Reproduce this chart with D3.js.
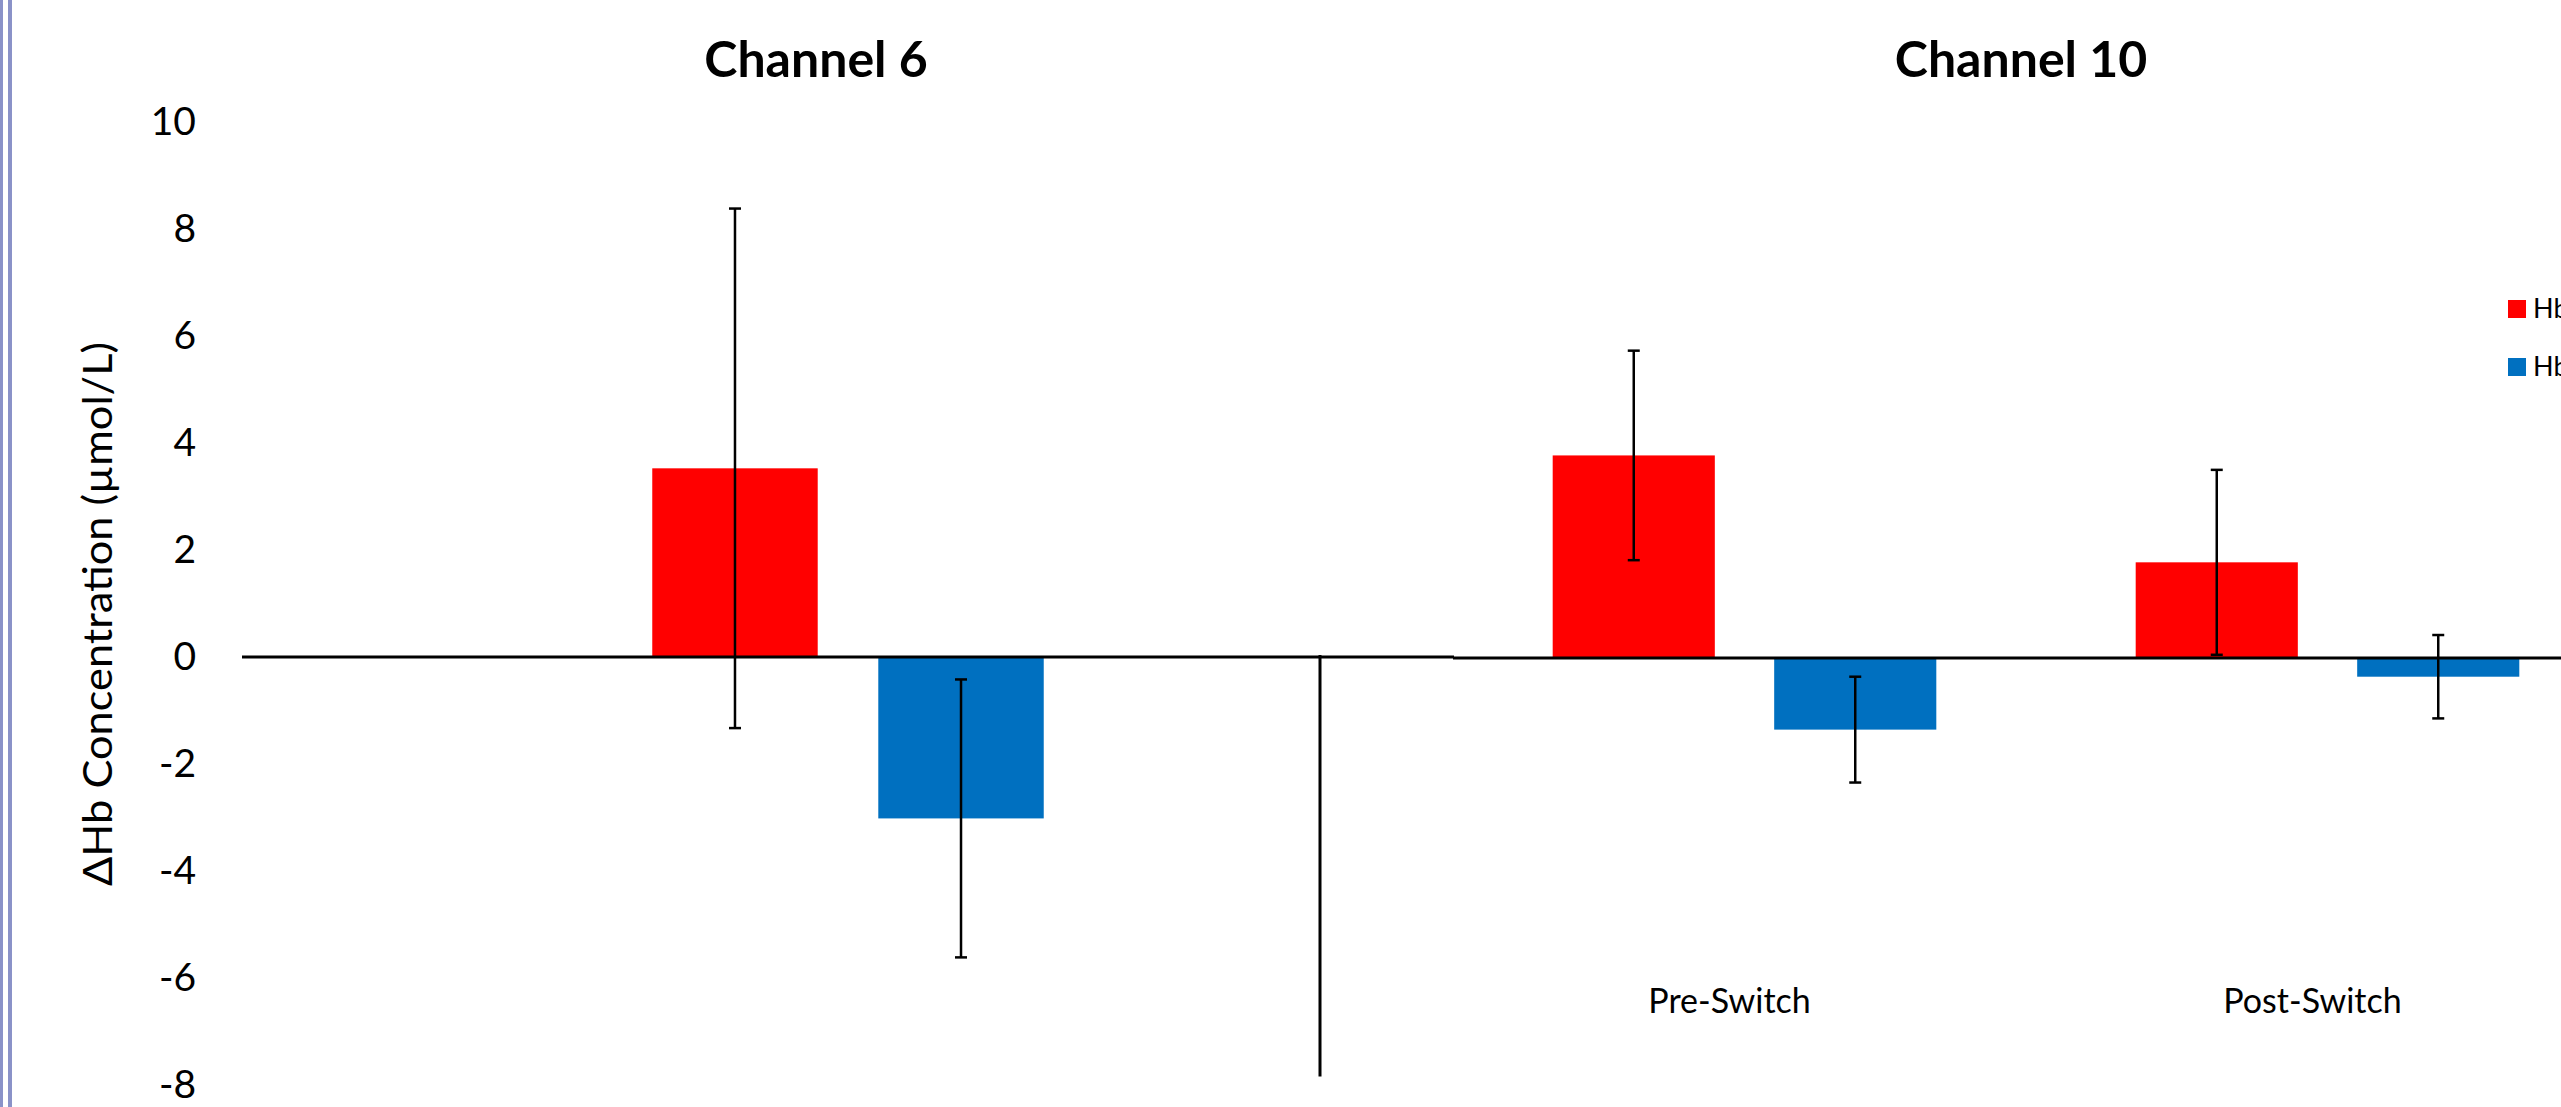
<!DOCTYPE html>
<html>
<head>
<meta charset="utf-8">
<script src="https://cdn.jsdelivr.net/npm/d3@7"></script>
<style>
  body { margin: 0; background: #ffffff; }
  svg { display: block; }
  text { font-family: Lato, "Open Sans", sans-serif; fill: #000; }
</style>
</head>
<body>
<svg id="chart" width="2561" height="1107"></svg>
<script>
// ---- data -------------------------------------------------------------
const seriesNames = ["HbO", "HbR"];
const seriesColors = ["#ff0000", "#0070c0"];
const yTicks = [-8, -6, -4, -2, 0, 2, 4, 6, 8, 10];

// Channel 6 (single condition)
const ch6Categories = ["Task"];
const ch6Oxy = [3.53];
const ch6OxyErr = [4.86];
const ch6Deoxy = [-3.02];
const ch6DeoxyErr = [2.60];

// Channel 10 (pre / post switch)
const ch10Categories = ["Pre-Switch", "Post-Switch"];
const ch10Oxy = [3.79, 1.79];
const ch10OxyErr = [1.96, 1.73];
const ch10Deoxy = [-1.34, -0.35];
const ch10DeoxyErr = [0.99, 0.78];

// ---- layout -----------------------------------------------------------
const W = 2561, H = 1107;
const svg = d3.select("#chart");

const y = d3.scaleLinear().domain([-8, 10]).range([1084.6, 122.5]);

// page frame on the left edge
svg.append("rect").attr("x", 0).attr("y", 0).attr("width", 3).attr("height", H).attr("fill", "#8a92c8");
svg.append("rect").attr("x", 8).attr("y", 0).attr("width", 4).attr("height", H).attr("fill", "#8a92c8");

// y axis: labels only
const yAxis = d3.axisLeft(y).tickValues(yTicks).tickSize(0).tickPadding(0)
  .tickFormat(d => String(d));
const yg = svg.append("g").attr("transform", "translate(196,0)").call(yAxis);
yg.select(".domain").remove();
yg.selectAll("text")
  .attr("font-family", "Lato, 'Open Sans', sans-serif")
  .attr("font-size", 39)
  .attr("fill", "#000");

// y axis title
svg.append("text")
  .attr("transform", "translate(112,614) rotate(-90)")
  .attr("text-anchor", "middle")
  .attr("font-size", 40)
  .attr("textLength", 544)
  .attr("lengthAdjust", "spacingAndGlyphs")
  .text("ΔHb Concentration (µmol/L)");

function drawPanel(opts) {
  const g = svg.append("g").attr("transform", `translate(0,${opts.dy})`);
  const p = opts.padding;
  const x = d3.scaleBand().domain(opts.categories).range(opts.range)
    .paddingInner(p).paddingOuter(p / 2);
  const inner = d3.scaleBand().domain(seriesNames).range([0, x.bandwidth()])
    .paddingInner(0.268).paddingOuter(0);

  const rows = [];
  opts.categories.forEach((c, i) => {
    rows.push({ cat: c, s: 0, v: opts.oxy[i], e: opts.oxyErr[i] });
    rows.push({ cat: c, s: 1, v: opts.deoxy[i], e: opts.deoxyErr[i] });
  });

  g.selectAll("rect.bar").data(rows).join("rect")
    .attr("class", "bar")
    .attr("x", d => x(d.cat) + inner(seriesNames[d.s]))
    .attr("y", d => y(Math.max(0, d.v)))
    .attr("width", inner.bandwidth())
    .attr("height", d => Math.abs(y(d.v) - y(0)))
    .attr("fill", d => seriesColors[d.s]);

  // category axis along zero
  g.append("line")
    .attr("x1", opts.range[0]).attr("x2", Math.min(opts.range[1], W + 10))
    .attr("y1", y(0)).attr("y2", y(0))
    .attr("stroke", "#000").attr("stroke-width", 2.8);

  // error bars
  const cap = 6;
  const eb = g.selectAll("g.err").data(rows).join("g").attr("class", "err")
    .attr("transform", d => `translate(${x(d.cat) + inner(seriesNames[d.s]) + inner.bandwidth() / 2},0)`);
  eb.append("line").attr("x1", 0).attr("x2", 0)
    .attr("y1", d => y(d.v + d.e)).attr("y2", d => y(d.v - d.e))
    .attr("stroke", "#000").attr("stroke-width", 2.5);
  eb.append("line").attr("x1", -cap).attr("x2", cap)
    .attr("y1", d => y(d.v + d.e)).attr("y2", d => y(d.v + d.e))
    .attr("stroke", "#000").attr("stroke-width", 2.5);
  eb.append("line").attr("x1", -cap).attr("x2", cap)
    .attr("y1", d => y(d.v - d.e)).attr("y2", d => y(d.v - d.e))
    .attr("stroke", "#000").attr("stroke-width", 2.5);

  if (opts.showLabels) {
    g.selectAll("text.cat").data(opts.categories).join("text")
      .attr("class", "cat")
      .attr("x", d => x(d) + x.bandwidth() / 2 - 15)
      .attr("y", 1012)
      .attr("text-anchor", "middle")
      .attr("font-size", 34)
      .text(d => d);
  }

  svg.append("text")
    .attr("x", opts.titleX).attr("y", 77)
    .attr("text-anchor", "middle")
    .attr("font-size", 50)
    .attr("font-weight", 700)
    .text(opts.title);
  return { x, g };
}

drawPanel({
  categories: ch6Categories, oxy: ch6Oxy, oxyErr: ch6OxyErr,
  deoxy: ch6Deoxy, deoxyErr: ch6DeoxyErr,
  range: [242, 1454], padding: 0.677, dy: 0,
  title: "Channel 6", titleX: 816, showLabels: false
});

// divider running down from the zero line
svg.append("line")
  .attr("x1", 1320).attr("x2", 1320)
  .attr("y1", y(0) - 2).attr("y2", y(-7.85))
  .attr("stroke", "#000").attr("stroke-width", 3);

drawPanel({
  categories: ch10Categories, oxy: ch10Oxy, oxyErr: ch10OxyErr,
  deoxy: ch10Deoxy, deoxyErr: ch10DeoxyErr,
  range: [1453, 2619], padding: 0.342, dy: 1,
  title: "Channel 10", titleX: 2021, showLabels: true
});

// legend (runs past the right edge of the page)
const legend = svg.append("g");
seriesNames.forEach((name, i) => {
  const ly = 300 + i * 58;
  legend.append("rect").attr("x", 2508).attr("y", ly).attr("width", 18).attr("height", 18)
    .attr("fill", seriesColors[i]);
  legend.append("text").attr("x", 2533).attr("y", ly + 18)
    .attr("font-size", 27).text(name);
});
</script>
</body>
</html>
